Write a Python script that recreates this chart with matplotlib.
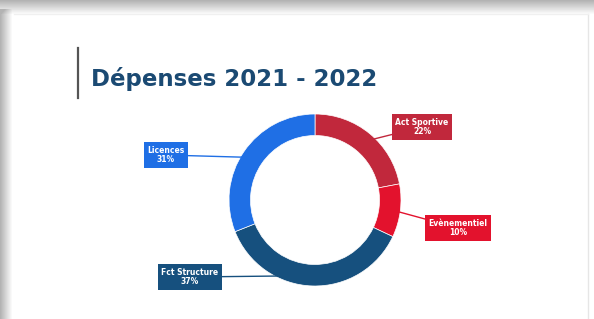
import numpy as np
import matplotlib
matplotlib.use("Agg")
import matplotlib.pyplot as plt

# data
labels = ["Act Sportive", "Evènementiel", "Fct Structure", "Licences"]
shares = [22, 10, 37, 31]
colors = ["#c1283c", "#e3122d", "#16507e", "#1f6fe5"]
title = "Dépenses 2021 - 2022"

# label box positions (pixels, from top-left)
label_pos = [(422, 127), (458, 228), (190, 277), (166, 155)]

W, H = 594, 319
fig = plt.figure(figsize=(W / 100, H / 100), dpi=100)

# background / slide frame
bg = fig.add_axes([0, 0, 1, 1])
bg.set_xlim(0, W)
bg.set_ylim(H, 0)
bg.axis("off")
yy, xx = np.mgrid[0:H, 0:W]
shade = np.minimum(np.clip((14 - yy) / 14, 0, 1) + np.clip((12 - xx) / 12, 0, 1) * (yy > 8), 1)
bg.imshow(1 - 0.3 * shade, cmap="gray", vmin=0, vmax=1, extent=(0, W, H, 0), aspect="auto")
bg.plot([588, 588], [14, H], color="#e6e6e6", lw=1)
bg.plot([14, 588], [14, 14], color="#f0f0f0", lw=1)
bg.plot([78, 78], [48, 98], color="#555555", lw=1.6)
bg.text(91, 79, title, fontsize=16.5, fontweight="heavy", color="#1b4a73",
        va="center", ha="left")

# donut
cx, cy, R = 315, 200, 86
ax = fig.add_axes([(cx - R) / W, (H - cy - R) / H, 2 * R / W, 2 * R / H])
wedges, _ = ax.pie(shares, colors=colors, startangle=90, counterclock=False,
                   wedgeprops=dict(width=0.25, edgecolor="white", linewidth=0.5))
ax.set_xlim(-1, 1)
ax.set_ylim(-1, 1)

for w, lab, val, col, (px, py) in zip(wedges, labels, shares, colors, label_pos):
    ang = np.deg2rad((w.theta1 + w.theta2) / 2)
    x, y = 0.88 * np.cos(ang), 0.88 * np.sin(ang)
    ax.annotate(f"{lab}\n{val}%", xy=(x, y), xytext=(px / W, 1 - py / H),
                textcoords="figure fraction", ha="center", va="center",
                fontsize=5.5, fontweight="bold", color="white", linespacing=1.1,
                bbox=dict(boxstyle="square,pad=0.45", fc=col, ec="none"),
                arrowprops=dict(arrowstyle="-", color=col, lw=1,
                                shrinkA=0, shrinkB=0))

fig.savefig("out.png", dpi=100)
